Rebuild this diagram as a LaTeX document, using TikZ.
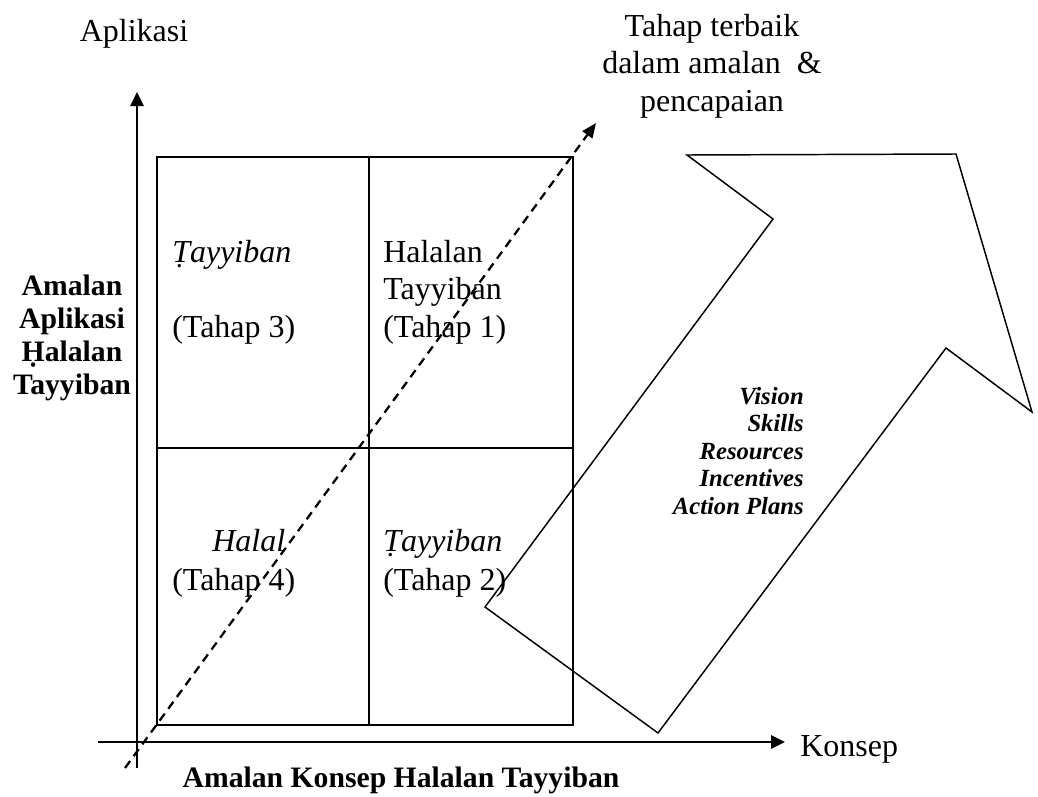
\documentclass[tikz,border=0pt]{standalone}
\usepackage{fontspec}
\setmainfont{Liberation Serif}
\usepackage{tikz}
\usetikzlibrary{arrows.meta,positioning}

\begin{document}
\begin{tikzpicture}[x=0.75pt,y=-0.75pt]
	\tikzstyle{Axis}	= [line width=1.6pt, -{Triangle[length=10.5pt,width=10pt]}]
	\tikzstyle{Grid}	= [line width=1.5pt]
	\tikzstyle{Path}	= [line width=1.7pt, dash pattern=on 6.5pt off 4.5pt, -{Triangle[length=11pt,width=9pt]}]
	\tikzstyle{Shaft}	= [line width=1.1pt, line join=miter]
	\tikzstyle{Plain}	= [inner sep=0pt, font=\fontsize{24}{28}\selectfont]
	\tikzstyle{Stage}	= [Plain, anchor=base west]
	\tikzstyle{Title}	= [inner sep=0pt, font=\bfseries\fontsize{22.25}{24.75}\selectfont]
	\tikzstyle{Factor}	= [inner sep=0pt, align=right, font=\bfseries\itshape\fontsize{18.5}{20.6}\selectfont]

	\useasboundingbox (0,0) rectangle (1038,796);

	% axes
	\coordinate (y0) at (137,768);
	\coordinate (y1) at (137,92);
	\coordinate (x0) at (98,742);
	\coordinate (x1) at (785,742);
	\draw [Axis] (y0) to (y1);
	\draw [Axis] (x0) to (x1);

	% four quadrants
	\coordinate (q0) at (157,725);
	\coordinate (q1) at (573,157);
	\draw [Grid] (q0) rectangle (q1);
	\draw [Grid] (369,157) to (369,725);
	\draw [Grid] (157,448) to (573,448);

	% dashed path to the best stage
	\coordinate (p0) at (125,768);
	\coordinate (p1) at (596,123);
	\draw [Path] (p0) to (p1);

	% big arrow
	\coordinate (a0) at (485,607);
	\coordinate (a1) at (773,219);
	\coordinate (a2) at (687,155);
	\coordinate (a3) at (956,154);
	\coordinate (a4) at (1032,412);
	\coordinate (a5) at (946,348);
	\coordinate (a6) at (658,733);
	\draw [Shaft] (a0) -- (a1) -- (a2) -- (a3) -- (a4) -- (a5) -- (a6) -- cycle;

	% labels
	\node (yLab) at (134,41) [Plain, anchor=base] {Aplikasi};
	\node (best) at (712,14) [Plain, anchor=north, align=center] {Tahap terbaik\\dalam amalan\ \ \&\\pencapaian};
	\node (yTitle) at (72,275) [Title, anchor=north, align=center] {Amalan\\Aplikasi\\Ḥalalan\\Tayyiban};
	\node (xLab) at (800,756) [Stage] {Konsep};
	\node (xTitle) at (401,787) [Title, anchor=base] {Amalan Konsep Halalan Tayyiban};

	\node (t3a) at (172,262) [Stage] {\itshape Ṭayyiban};
	\node (t3b) at (172,337) [Stage] {(Tahap 3)};
	\node (t1) at (383,240) [Plain, anchor=north west, align=left] {Halalan\\Tayyiban\\(Tahap 1)};
	\node (t4a) at (212,551) [Stage] {\itshape Halal};
	\node (t4b) at (172,590) [Stage] {(Tahap 4)};
	\node (t2a) at (383,551) [Stage] {\itshape Ṭayyiban};
	\node (t2b) at (383,590) [Stage] {(Tahap 2)};

	\node (keys) at (804,387) [Factor, anchor=north east] {Vision\\Skills\\Resources\\Incentives\\Action Plans};
\end{tikzpicture}
\end{document}
